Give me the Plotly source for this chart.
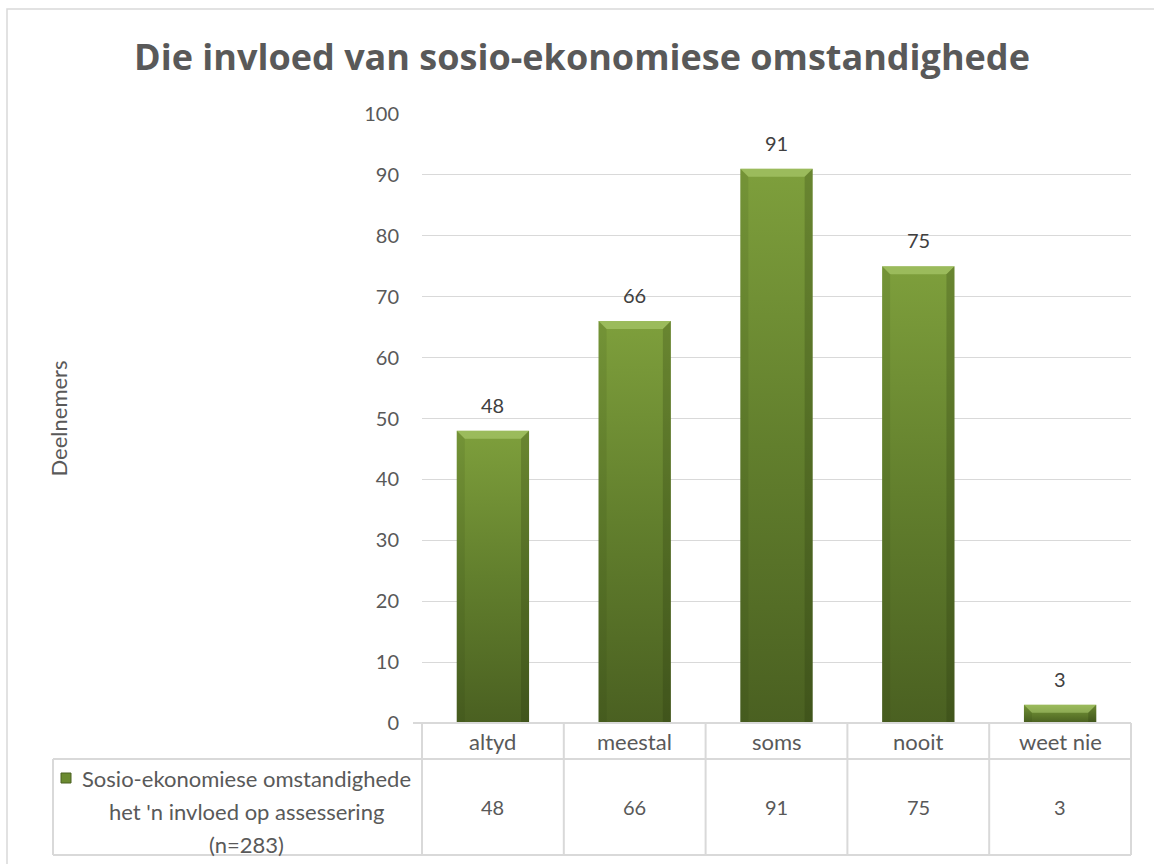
import plotly.graph_objects as go

categories = ["altyd", "meestal", "soms", "nooit", "weet nie"]
values = [48, 66, 91, 75, 3]
series_lines = ["Sosio-ekonomiese omstandighede", "het 'n invloed op assessering", "(n=283)"]
y_ticks = list(range(0, 101, 10))
title = "Die invloed van sosio-ekonomiese omstandighede"
y_title = "Deelnemers"

W, H = 1154, 864
L, R, T, B = 422, 23, 114, 141
pw, ph = W - L - R, H - T - B


# pixel -> paper helpers for the table drawn under the plot
def px(x):
    return (x - L) / pw


def py(y):
    return (H - B - y) / ph


GRAY = "#595959"
LINE = "#d9d9d9"
FONT = "Lato"

half = 0.255
bev_x = 8 / (pw / 5)
bev_y = 8 / (ph / 100)

fig = go.Figure()

for i, v in enumerate(values):
    x0, x1 = i - half, i + half
    by = min(bev_y, v * 0.45)
    # body with vertical gradient
    fig.add_trace(go.Scatter(
        x=[x0, x0, x1, x1, x0], y=[0, v, v, 0, 0], mode="lines",
        line=dict(width=0), fill="toself",
        fillgradient=dict(type="vertical", start=0, stop=v,
                          colorscale=[[0, "#4a6021"], [0.5, "#627f2d"], [1, "#7e9f3c"]]),
        hoverinfo="skip", showlegend=False))
    # top bevel
    fig.add_trace(go.Scatter(
        x=[x0, x1, x1 - bev_x, x0 + bev_x, x0], y=[v, v, v - by, v - by, v],
        mode="lines", line=dict(width=0), fill="toself",
        fillcolor="rgba(200,230,140,0.40)", hoverinfo="skip", showlegend=False))
    # right side shade
    fig.add_trace(go.Scatter(
        x=[x1, x1, x1 - bev_x, x1 - bev_x, x1], y=[v, 0, 0, v - by, v],
        mode="lines", line=dict(width=0), fill="toself",
        fillcolor="rgba(30,45,10,0.22)", hoverinfo="skip", showlegend=False))
    # left side shade
    fig.add_trace(go.Scatter(
        x=[x0, x0, x0 + bev_x, x0 + bev_x, x0], y=[v, 0, 0, v - by, v],
        mode="lines", line=dict(width=0), fill="toself",
        fillcolor="rgba(30,45,10,0.10)", hoverinfo="skip", showlegend=False))
    fig.add_annotation(x=i, y=v, xref="x", yref="y", text=str(v), showarrow=False,
                       yshift=26, font=dict(family=FONT, size=20, color="#404040"))

# data table
cols = [L + k * pw / 5 for k in range(6)]
shapes = []
shapes.append(dict(type="line", xref="paper", yref="paper", x0=px(413), x1=px(cols[-1]),
                   y0=py(723), y1=py(723), line=dict(color=LINE, width=2)))
for yy in (759, 855):
    shapes.append(dict(type="line", xref="paper", yref="paper", x0=px(53), x1=px(cols[-1]),
                       y0=py(yy), y1=py(yy), line=dict(color=LINE, width=2)))
shapes.append(dict(type="line", xref="paper", yref="paper", x0=px(53), x1=px(53),
                   y0=py(759), y1=py(855), line=dict(color=LINE, width=2)))
for c in cols:
    shapes.append(dict(type="line", xref="paper", yref="paper", x0=px(c), x1=px(c),
                       y0=py(723), y1=py(855), line=dict(color=LINE, width=2)))
# legend key
shapes.append(dict(type="rect", xref="paper", yref="paper", x0=px(61), x1=px(71),
                   y0=py(773), y1=py(783), fillcolor="#6b8a30", line=dict(color="#4a6021", width=1)))
# chart border
shapes.append(dict(type="rect", xref="paper", yref="paper", x0=px(7), x1=px(1170),
                   y0=py(9), y1=py(880), line=dict(color=LINE, width=1.5)))

for i, (c, v) in enumerate(zip(categories, values)):
    fig.add_annotation(x=i, y=py(741), xref="x", yref="paper", text=c, showarrow=False,
                       xanchor="center", yanchor="middle",
                       font=dict(family=FONT, size=22, color=GRAY))
    fig.add_annotation(x=i, y=py(807), xref="x", yref="paper", text=str(v), showarrow=False,
                       xanchor="center", yanchor="middle",
                       font=dict(family=FONT, size=20, color=GRAY))

for t, yy in zip(series_lines, (778, 811, 844)):
    fig.add_annotation(x=px(246), y=py(yy), xref="paper", yref="paper", text=t, showarrow=False,
                       xanchor="center", yanchor="middle",
                       font=dict(family=FONT, size=22, color=GRAY))

fig.add_annotation(x=px(58), y=0.5, xref="paper", yref="paper", text=y_title, textangle=-90,
                   showarrow=False, xanchor="center", yanchor="middle",
                   font=dict(family=FONT, size=22, color=GRAY))

fig.update_layout(
    width=W, height=H,
    margin=dict(l=L, r=R, t=T, b=B),
    paper_bgcolor="white", plot_bgcolor="white",
    title=dict(text=title, x=582 / W, xanchor="center", y=1 - 57 / H, yanchor="middle",
               xref="container", yref="container",
               font=dict(family="Open Sans", size=36, weight="bold", color=GRAY)),
    shapes=shapes,
    showlegend=False,
)
fig.update_xaxes(range=[-0.5, 4.5], showticklabels=False, showgrid=False, zeroline=False,
                 showline=False, fixedrange=True)
fig.update_yaxes(range=[0, 100], tickvals=y_ticks, gridcolor=LINE, gridwidth=1, zeroline=False,
                 showline=False, ticks="", ticklabelstandoff=22,
                 tickfont=dict(family=FONT, size=20, color=GRAY))

fig.write_html("out.html", config={"displayModeBar": False},
               post_script="document.body.style.margin='0';")
